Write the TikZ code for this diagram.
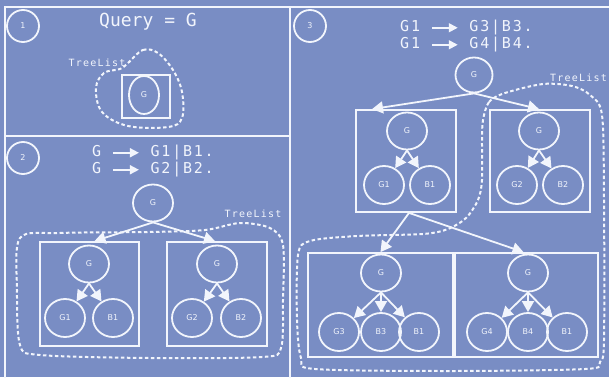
\documentclass[tikz,border=0pt]{standalone}
\usepackage{fontspec}
\setmainfont{DejaVu Sans}
\newfontfamily\rulef[LetterSpace=12]{DejaVu Sans Mono}
\newfontfamily\queryf{DejaVu Sans Mono}
\usetikzlibrary{shapes.geometric,arrows.meta}
\definecolor{bg}{RGB}{121,141,196}
\definecolor{ln}{RGB}{242,245,252}
\newcommand{\larr}{\tikz[baseline=-4.2pt,x=1pt,y=1pt]\draw[color=ln,line width=1.7pt,-{Triangle[width=9pt,length=9pt]}] (0,0) -- (26,0);}
\begin{document}
\begin{tikzpicture}[x=1pt,y=-1pt,
  every node/.style={text=ln},
  frame/.style={draw=ln,line width=2pt},
  nd/.style={draw=ln,line width=1.8pt,ellipse,minimum width=40pt,minimum height=37pt,inner sep=0pt,font=\fontsize{8}{8}\selectfont},
  num/.style={draw=ln,line width=1.8pt,circle,minimum size=32pt,inner sep=0pt,font=\fontsize{8}{8}\selectfont},
  grp/.style={draw=ln,line width=1.8pt,rectangle,inner sep=0pt},
  arr/.style={color=ln,line width=1.8pt,-{Triangle[width=12pt,length=11pt]}},
  tlist/.style={draw=ln,line width=2pt,dash pattern=on 3.5pt off 2.5pt},
  rule/.style={font=\rulef\fontsize{15}{15}\selectfont,anchor=west,inner sep=0pt},
  tl/.style={font=\rulef\fontsize{10}{10}\selectfont,inner sep=0pt}
]
\fill[bg] (0,0) rectangle (609,377);
\useasboundingbox (0,0) rectangle (609,377);
% frames
\draw[frame] (615,7) -- (5,7) -- (5,380);
\draw[frame] (290,7) -- (290,380);
\draw[frame] (5,136) -- (290,136);

% ---------- panel 1
\node[num] (c1) at (23,26) {1};
\node[font=\queryf\fontsize{18}{18}\selectfont,inner sep=0pt] (q) at (148,22) {Query = G};
\node[grp,minimum width=48pt,minimum height=43pt] (b1) at (146,96.5) {};
\node[nd,minimum width=30pt,minimum height=38pt] (g1) at (144,95) {G};
\node[tl] (tl1) at (97,63) {TreeList};
\draw[tlist] plot[smooth cycle,tension=0.6] coordinates {(128,63) (143,50) (158,53) (173,70) (182,92) (182,118) (168,127) (128,126) (102,112) (96,88) (104,73) (120,69)};

% ---------- panel 2
\node[num] (c2) at (23,158) {2};
\node[rule] (r2a) at (92,153) {G \larr{} G1|B1.};
\node[rule] (r2b) at (92,170) {G \larr{} G2|B2.};
\node[nd] (p2g) at (153,203) {G};
\node[grp,minimum width=99pt,minimum height=104pt] (p2L) at (89.5,294) {};
\node[grp,minimum width=100pt,minimum height=104pt] (p2R) at (217,294) {};
\node[nd] (p2Lg) at (89,264) {G};
\node[nd,minimum height=38pt] (p2Lg1) at (65,318) {G1};
\node[nd,minimum height=38pt] (p2Lb1) at (113,318) {B1};
\node[nd] (p2Rg) at (217,264) {G};
\node[nd,minimum height=38pt] (p2Rg2) at (192,318) {G2};
\node[nd,minimum height=38pt] (p2Rb2) at (241,318) {B2};
\draw[arr] (p2g.south) -- ([xshift=5pt]p2L.north);
\draw[arr] (p2g.south) -- ([xshift=-2pt]p2R.north);
\draw[arr] (p2Lg.south) -- (p2Lg1);
\draw[arr] (p2Lg.south) -- (p2Lb1);
\draw[arr] (p2Rg.south) -- (p2Rg2);
\draw[arr] (p2Rg.south) -- (p2Rb2);
\node[tl] (tl2) at (253,214) {TreeList};
\draw[tlist] plot[smooth cycle,tension=0.5] coordinates {(20,238) (60,233) (150,232) (205,230) (240,223) (270,228) (283,245) (283,300) (281,348) (262,357) (150,358) (40,355) (20,345) (17,290)};

% ---------- panel 3
\node[num] (c3) at (310,26) {3};
\node[rule] (r3a) at (400,28) {G1 \larr{} G3|B3.};
\node[rule] (r3b) at (400,45) {G1 \larr{} G4|B4.};
\node[nd,minimum width=37pt,minimum height=35pt] (p3g) at (474,75) {G};
\node[grp,minimum width=100pt,minimum height=102pt] (p3TL) at (406,161) {};
\node[grp,minimum width=100pt,minimum height=102pt] (p3TR) at (540,161) {};
\node[nd] (p3TLg) at (407,131) {G};
\node[nd,minimum height=38pt] (p3TLg1) at (384,185) {G1};
\node[nd,minimum height=38pt] (p3TLb1) at (430,185) {B1};
\node[nd] (p3TRg) at (539,131) {G};
\node[nd,minimum height=38pt] (p3TRg2) at (517,185) {G2};
\node[nd,minimum height=38pt] (p3TRb2) at (563,185) {B2};
\node[grp,minimum width=145pt,minimum height=104pt] (p3BL) at (380.5,305) {};
\node[grp,minimum width=143pt,minimum height=104pt] (p3BR) at (526.5,305) {};
\node[nd] (p3BLg) at (381,273) {G};
\node[nd,minimum height=38pt] (p3BLg3) at (339,332) {G3};
\node[nd,minimum height=38pt] (p3BLb3) at (381,332) {B3};
\node[nd,minimum height=38pt] (p3BLb1) at (419,332) {B1};
\node[nd] (p3BRg) at (528,273) {G};
\node[nd,minimum height=38pt] (p3BRg4) at (487,332) {G4};
\node[nd,minimum height=38pt] (p3BRb4) at (528,332) {B4};
\node[nd,minimum height=38pt] (p3BRb1) at (567,332) {B1};
\draw[arr] (p3g.south) -- ([xshift=-34pt]p3TL.north);
\draw[arr] (p3g.south) -- ([xshift=-1pt]p3TR.north);
\draw[arr] (p3TLg.south) -- (p3TLg1);
\draw[arr] (p3TLg.south) -- (p3TLb1);
\draw[arr] (p3TRg.south) -- (p3TRg2);
\draw[arr] (p3TRg.south) -- (p3TRb2);
\draw[arr] ([xshift=3pt]p3TL.south) -- (p3BL.north);
\draw[arr] ([xshift=3pt]p3TL.south) -- ([xshift=-3pt]p3BR.north);
\draw[arr] (p3BLg.south) -- (p3BLg3);
\draw[arr] (p3BLg.south) -- (p3BLb3);
\draw[arr] (p3BLg.south) -- (p3BLb1);
\draw[arr] (p3BRg.south) -- (p3BRg4);
\draw[arr] (p3BRg.south) -- (p3BRb4);
\draw[arr] (p3BRg.south) -- (p3BRb1);
\node[tl,anchor=east] (tl3) at (607,78) {TreeList};
\draw[tlist] plot[smooth cycle,tension=0.5] coordinates {(483,120) (489,102) (505,93) (543,84) (572,86) (590,95) (602,115) (604,200) (604,340) (600,362) (585,369) (450,371) (315,369) (301,358) (297,320) (298,255) (310,241) (357,236) (423,234) (448,229) (466,218) (478,200) (482,180) (482,140)};
\end{tikzpicture}
\end{document}
